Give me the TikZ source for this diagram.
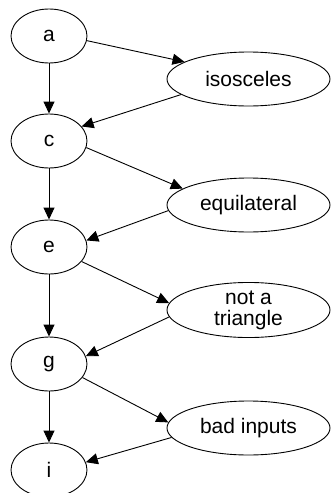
\documentclass[tikz,border=0pt]{standalone}
\usepackage{fontspec}
\setmainfont{Liberation Sans}
\usetikzlibrary{shapes.geometric,arrows.meta}
\begin{document}
\begin{tikzpicture}[x=1pt,y=-1pt,
  nd/.style={draw,ellipse,line width=0.9pt,inner sep=0pt,minimum width=76pt,minimum height=54pt,font=\fontsize{21}{21}\selectfont},
  wide/.style={nd,minimum width=163pt,align=center},
  edge/.style={line width=0.9pt,-{Triangle[length=12pt,width=11pt]}}]
\useasboundingbox (0,0) rectangle (331,493);
\node[nd] (a) at (49,36) {a};
\node[nd] (c) at (49,141) {c};
\node[nd] (e) at (49,247) {e};
\node[nd] (g) at (49,364) {g};
\node[nd] (i) at (49,470) {i};
\node[wide] (iso) at (248.5,79) {isosceles};
\node[wide] (equ) at (248.5,205) {equilateral};
\node[wide] (not) at (248.5,310) {not a\\triangle};
\node[wide] (bad) at (248.5,428) {bad inputs};
\draw[edge] (a) -- (c);
\draw[edge] (c) -- (e);
\draw[edge] (e) -- (g);
\draw[edge] (g) -- (i);
\draw[edge] (a.-7) -- (iso.165);
\draw[edge] (iso.-167) -- (c.24);
\draw[edge] (c.-10) -- (equ.166);
\draw[edge] (equ.-176) -- (e.10);
\draw[edge] (e.-24) -- (not.175);
\draw[edge] (not.-175) -- (g.12);
\draw[edge] (g.-22) -- (bad.176);
\draw[edge] (bad.-173) -- (i.12);
\end{tikzpicture}
\end{document}
